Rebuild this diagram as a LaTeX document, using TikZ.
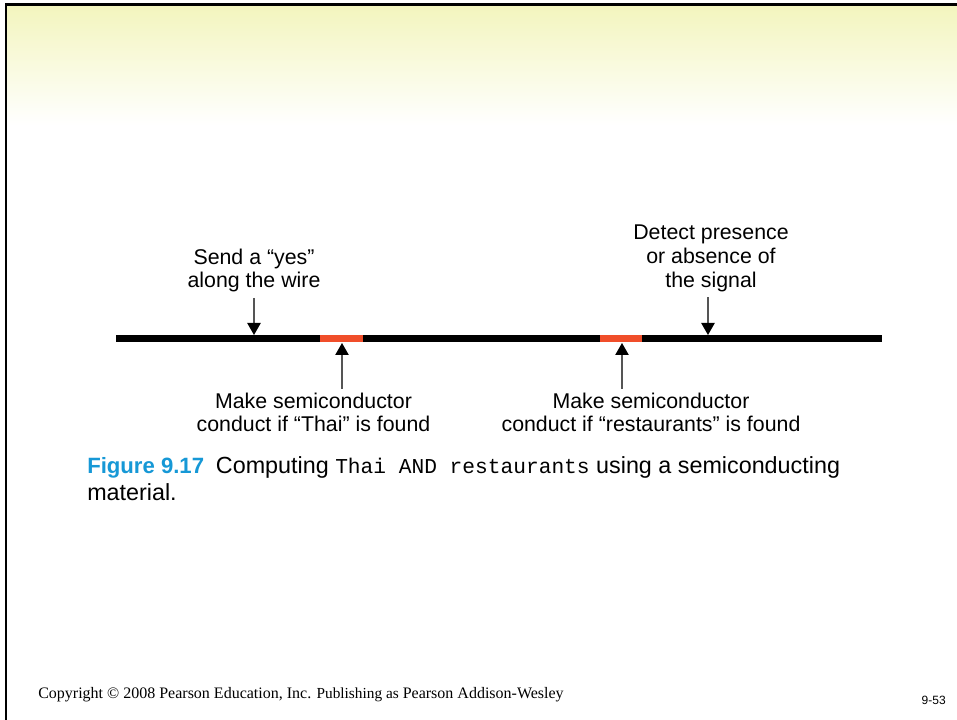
\documentclass[tikz,border=0pt]{standalone}
\usepackage{fontspec}
\setmainfont{Liberation Sans}
\newfontfamily\monofont{Liberation Mono}
\newfontfamily\seriffont{Liberation Serif}
\usetikzlibrary{arrows.meta}
\definecolor{ylw}{RGB}{243,245,190}
\definecolor{semired}{RGB}{240,78,42}
\definecolor{figblue}{RGB}{22,152,214}
\definecolor{shaftgray}{RGB}{85,85,85}
\tikzset{
  label/.style={font=\fontsize{16}{17.8}\selectfont, align=center, inner sep=0pt, anchor=north},
  pointer/.style={draw=shaftgray, line width=1pt, -{Triangle[length=9pt,width=10pt,color=black]}},
  wire/.style={line width=5.25pt, line cap=butt},
}
\begin{document}
\begin{tikzpicture}[x=0.75pt,y=-0.75pt]
\useasboundingbox (0,0) rectangle (957,720);
\fill[white] (0,0) rectangle (957,720);
% header gradient
\shade[top color=ylw, bottom color=white] (7,6) rectangle (957,125);
% frame lines
\draw[line width=2pt] (5,4.7) -- (957,4.7);
\draw[line width=1.8pt] (6.2,4) -- (6.2,720);

% wire
\coordinate (wl) at (116,339);
\coordinate (wr) at (882,339);
\coordinate (r1a) at (320,339);
\coordinate (r1b) at (363,339);
\coordinate (r2a) at (600,339);
\coordinate (r2b) at (642,339);
\draw[wire, black] (wl) -- (wr);
\draw[wire, semired] (r1a) -- (r1b);
\draw[wire, semired] (r2a) -- (r2b);

% arrow targets
\coordinate (t1) at (254,335);
\coordinate (t2) at (708,335);
\coordinate (t3) at (342,343);
\coordinate (t4) at (622,343);

% labels
\node[label] (send) at (254,248.5) {Send a “yes”\\along the wire};
\node[label] (detect) at (711,225) {Detect presence\\or absence of\\the signal};
\node[label] (make1) at (313.5,392.5) {Make semiconductor\\conduct if “Thai” is found};
\node[label] (make2) at (651,392.5) {Make semiconductor\\conduct if “restaurants” is found};

\draw[pointer, shorten <=4pt] (send.south -| t1) -- (t1);
\draw[pointer, shorten <=4pt] (detect.south -| t2) -- (t2);
\draw[pointer, shorten <=3pt] (make1.north -| t3) -- (t3);
\draw[pointer, shorten <=3pt] (make2.north -| t4) -- (t4);

% caption
\node[anchor=north west, inner sep=0pt, align=left, font=\fontsize{17.5}{20.5}\selectfont] (caption) at (87,456)
  {{\bfseries\color{figblue}\fontsize{16.6}{20.5}\selectfont Figure 9.17}\hspace{4pt} Computing {\monofont\fontsize{15.9}{20.5}\selectfont Thai AND restaurants} using a semiconducting\\material.};

% footer
\node[anchor=base west, inner sep=0pt, font=\seriffont\fontsize{12}{14}\selectfont] (copy) at (38,698)
  {Copyright © 2008 Pearson Education, Inc. {\fontsize{11.5}{14}\selectfont Publishing as} Pearson Addison-Wesley};
\node[anchor=base east, inner sep=0pt, font=\fontsize{9}{11}\selectfont] (page) at (946,704) {9-53};
\end{tikzpicture}
\end{document}
